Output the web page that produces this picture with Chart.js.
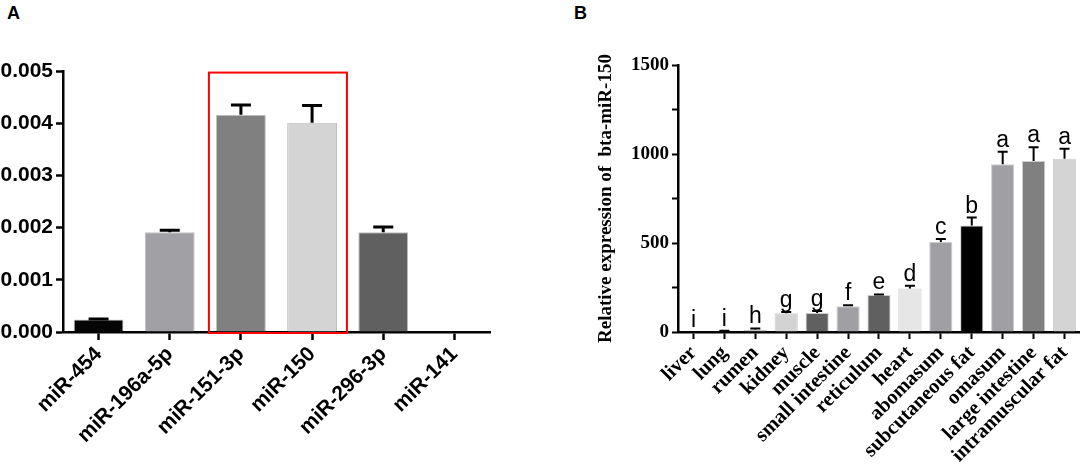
<!DOCTYPE html>
<html>
<head>
<meta charset="utf-8">
<script src="https://cdn.jsdelivr.net/npm/chart.js@4/dist/chart.umd.min.js"></script>
<style>
    body { margin: 0; background: #fff; width: 1084px; height: 467px; overflow: hidden; position: relative; }
    .panel { position: absolute; top: 0; height: 467px; }
    .tag { position: absolute; top: 3px; font: bold 18px "Liberation Sans", Arial, sans-serif; }
</style>
</head>
<body>
<div class="tag" style="left:7px">A</div>
<div class="tag" style="left:574px">B</div>
<div class="panel" style="left:0;width:500px"><canvas id="chartA"></canvas></div>
<div class="panel" style="left:540px;width:544px"><canvas id="chartB"></canvas></div>
<script>
// Panel A data
const mirNames = ['miR-454', 'miR-196a-5p', 'miR-151-3p', 'miR-150', 'miR-296-3p', 'miR-141'];
const mirMeans = [0.00024, 0.00191, 0.00416, 0.00401, 0.00191, 0];
const mirErrors = [0.00001, 0.00004, 0.00019, 0.00033, 0.00010, 0];
const mirColors = ['#050505', '#a1a0a5', '#808080', '#d4d4d4', '#606060', '#606060'];
const mirTicks = [0, 0.001, 0.002, 0.003, 0.004, 0.005];
const mirTickLabels = ['0.000', '0.001', '0.002', '0.003', '0.004', '0.005'];
const highlighted = [2, 3];

// Panel B data
const tissues = ['liver', 'lung', 'rumen', 'kidney', 'muscle', 'small intestine', 'reticulum',
    'heart', 'abomasum', 'subcutaneous fat', 'omasum', 'large intestine', 'intramuscular fat'];
const tissueMeans = [1, 3, 12, 105, 107, 144, 208, 245, 505, 598, 943, 961, 974];
const tissueErrors = [0, 4, 8, 7, 11, 6, 3, 15, 17, 45, 69, 77, 55];
const tissueLetters = ['i', 'i', 'h', 'g', 'g', 'f', 'e', 'd', 'c', 'b', 'a', 'a', 'a'];
const tissueColors = ['#000000', '#111111', '#808080', '#d3d3d3', '#606060', '#a0a0a4', '#606060',
    '#e6e6e6', '#a0a0a4', '#000000', '#a0a0a4', '#808080', '#d4d4d4'];
const tissueTicks = [0, 250, 500, 750, 1000, 1250, 1500];
const tissueTickLabels = ['0', '', '500', '', '1000', '', '1500'];

Chart.defaults.animation = false;
Chart.defaults.devicePixelRatio = 1;

// error bars (mean + error) drawn through the scales
function errorBarPlugin(errors, capHalf, lw) {
    return {
        id: 'errorBars',
        afterDatasetsDraw(chart) {
            const ctx = chart.ctx;
            const y = chart.scales.y;
            const meta = chart.getDatasetMeta(0);
            const means = chart.data.datasets[0].data;
            ctx.save();
            ctx.strokeStyle = '#000';
            ctx.lineWidth = lw;
            meta.data.forEach((bar, i) => {
                if (!errors[i]) return;
                const top = y.getPixelForValue(means[i] + errors[i]);
                const base = y.getPixelForValue(means[i]);
                ctx.beginPath();
                ctx.moveTo(bar.x, base);
                ctx.lineTo(bar.x, top);
                ctx.moveTo(bar.x - capHalf, top);
                ctx.lineTo(bar.x + capHalf, top);
                ctx.stroke();
            });
            ctx.restore();
        }
    };
}

// red frame around the highlighted miRNAs
const frameBox = {
    id: 'frameBox',
    afterDatasetsDraw(chart) {
        const x = chart.scales.x, y = chart.scales.y;
        const step = x.getPixelForValue(1) - x.getPixelForValue(0);
        const left = x.getPixelForValue(highlighted[0]) - step * 0.45;
        const right = x.getPixelForValue(highlighted[1]) + step * 0.49;
        const top = y.getPixelForValue(0.00497);
        const bottom = y.getPixelForValue(0) + 1;
        const ctx = chart.ctx;
        ctx.save();
        ctx.strokeStyle = '#ff0000';
        ctx.lineWidth = 2;
        ctx.strokeRect(left, top, right - left, bottom - top);
        ctx.restore();
    }
};

// significance letters above the error bars
const letterLabels = {
    id: 'letterLabels',
    afterDatasetsDraw(chart) {
        const ctx = chart.ctx;
        const y = chart.scales.y;
        const meta = chart.getDatasetMeta(0);
        ctx.save();
        ctx.fillStyle = '#000';
        ctx.font = '23px "Liberation Sans", Arial, sans-serif';
        ctx.textAlign = 'center';
        ctx.textBaseline = 'alphabetic';
        meta.data.forEach((bar, i) => {
            const top = y.getPixelForValue(tissueMeans[i] + tissueErrors[i]);
            ctx.fillText(tissueLetters[i], bar.x, top - 5);
        });
        ctx.restore();
    }
};

const sansBold = { family: '"Liberation Sans", Arial, sans-serif', weight: 'bold' };
const serifBold = { family: '"Liberation Serif", "Times New Roman", serif', weight: 'bold' };

new Chart(document.getElementById('chartA'), {
    type: 'bar',
    data: {
        labels: mirNames,
        datasets: [{
            data: mirMeans,
            backgroundColor: mirColors,
            borderColor: 'rgba(0,0,0,0.25)',
            borderWidth: 1,
            barPercentage: 0.7,
            categoryPercentage: 1
        }]
    },
    options: {
        responsive: true,
        maintainAspectRatio: false,
        layout: { padding: { top: 71, right: 10, left: 0, bottom: 0 } },
        plugins: { legend: { display: false }, tooltip: { enabled: false } },
        scales: {
            x: {
                afterFit(scale) { scale.height = 135; },
                border: { color: '#000', width: 2.5 },
                grid: { drawOnChartArea: false, offset: false, tickLength: 8, tickWidth: 2.5, tickColor: '#000' },
                ticks: {
                    color: '#000', autoSkip: false, minRotation: 45, maxRotation: 45, padding: 2,
                    font: Object.assign({ size: 21 }, sansBold)
                }
            },
            y: {
                min: 0, max: 0.005,
                afterFit(scale) { scale.width = 63; },
                afterBuildTicks(scale) { scale.ticks = mirTicks.map(v => ({ value: v })); },
                border: { color: '#000', width: 2.5 },
                grid: { drawOnChartArea: false, tickLength: 7, tickWidth: 2.5, tickColor: '#000' },
                ticks: {
                    color: '#000', padding: 3,
                    font: Object.assign({ size: 21 }, sansBold),
                    callback: (v, i) => mirTickLabels[i]
                }
            }
        }
    },
    plugins: [errorBarPlugin(mirErrors, 10, 3), frameBox]
});

new Chart(document.getElementById('chartB'), {
    type: 'bar',
    data: {
        labels: tissues,
        datasets: [{
            data: tissueMeans,
            backgroundColor: tissueColors,
            borderColor: 'rgba(0,0,0,0.2)',
            borderWidth: 1,
            barPercentage: 0.75,
            categoryPercentage: 1
        }]
    },
    options: {
        responsive: true,
        maintainAspectRatio: false,
        layout: { padding: { top: 65, right: 2, left: 55, bottom: 0 } },
        plugins: { legend: { display: false }, tooltip: { enabled: false } },
        scales: {
            x: {
                afterFit(scale) { scale.height = 135; },
                border: { color: '#000', width: 2.5 },
                grid: { drawOnChartArea: false, offset: false, tickLength: 7, tickWidth: 2, tickColor: '#000' },
                ticks: {
                    color: '#000', autoSkip: false, minRotation: 45, maxRotation: 45, padding: 2,
                    font: Object.assign({ size: 20.5 }, serifBold)
                }
            },
            y: {
                min: 0, max: 1500,
                afterFit(scale) { scale.width = 83; },
                afterBuildTicks(scale) { scale.ticks = tissueTicks.map(v => ({ value: v })); },
                border: { color: '#000', width: 2.5 },
                grid: { drawOnChartArea: false, tickLength: 6, tickWidth: 2, tickColor: '#000' },
                title: {
                    display: true, text: 'Relative expression of  bta-miR-150', color: '#000',
                    padding: 0, font: Object.assign({ size: 19, lineHeight: 1.2 }, serifBold)
                },
                ticks: {
                    color: '#000', padding: 3,
                    font: Object.assign({ size: 19 }, serifBold),
                    callback: (v, i) => tissueTickLabels[i]
                }
            }
        }
    },
    plugins: [errorBarPlugin(tissueErrors, 5, 2), letterLabels]
});
</script>
</body>
</html>
